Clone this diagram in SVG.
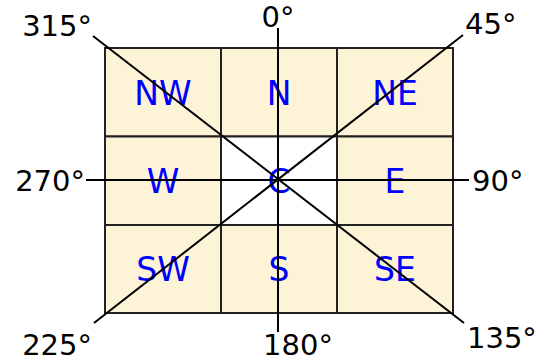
<svg xmlns="http://www.w3.org/2000/svg" width="549" height="362" viewBox="0 0 549 362">
<style>
.cell{fill:#fdf3d6;stroke:#222;stroke-width:2}
.cc{fill:#ffffff;stroke:#222;stroke-width:2}
.lbl{font-family:"DejaVu Sans",Verdana,sans-serif;font-size:33px;fill:#0000ff;text-anchor:middle}
.ang{font-family:"DejaVu Sans",Verdana,sans-serif;font-size:29px;fill:#000}
.ln{stroke:#000;stroke-width:2;fill:none}
</style>
<rect width="549" height="362" fill="#fff"/>
<g id="NW"><rect class="cell" x="105" y="48" width="116" height="88.5"/><text class="lbl" x="163" y="105">NW</text></g>
<g id="N"><rect class="cell" x="221" y="48" width="116" height="88.5"/><text class="lbl" x="279" y="105">N</text></g>
<g id="NE"><rect class="cell" x="337" y="48" width="116" height="88.5"/><text class="lbl" x="395" y="105">NE</text></g>
<g id="W"><rect class="cell" x="105" y="136.5" width="116" height="88.5"/><text class="lbl" x="163" y="193">W</text></g>
<g id="C"><rect class="cc" x="221" y="136.5" width="116" height="88.5"/><text class="lbl" x="279" y="193">C</text></g>
<g id="E"><rect class="cell" x="337" y="136.5" width="116" height="88.5"/><text class="lbl" x="395" y="193">E</text></g>
<g id="SW"><rect class="cell" x="105" y="225" width="116" height="88"/><text class="lbl" x="163" y="281">SW</text></g>
<g id="S"><rect class="cell" x="221" y="225" width="116" height="88"/><text class="lbl" x="279" y="281">S</text></g>
<g id="SE"><rect class="cell" x="337" y="225" width="116" height="88"/><text class="lbl" x="395" y="281">SE</text></g>
<g id="connectors">
<line class="ln" x1="93" y1="36" x2="464" y2="323"/>
<line class="ln" x1="463" y1="35" x2="94" y2="323"/>
<line class="ln" x1="278" y1="28" x2="278" y2="332"/>
<line class="ln" x1="86" y1="180" x2="469" y2="180"/>
</g>
<g id="a0"><text class="ang" x="278" y="27" text-anchor="middle">0°</text></g>
<g id="a45"><text class="ang" x="465" y="34">45°</text></g>
<g id="a90"><text class="ang" x="472" y="191">90°</text></g>
<g id="a135"><text class="ang" x="467" y="348">135°</text></g>
<g id="a180"><text class="ang" x="298" y="355" text-anchor="middle">180°</text></g>
<g id="a225"><text class="ang" x="92" y="355" text-anchor="end">225°</text></g>
<g id="a270"><text class="ang" x="85" y="191" text-anchor="end">270°</text></g>
<g id="a315"><text class="ang" x="92" y="36" text-anchor="end">315°</text></g>
</svg>
